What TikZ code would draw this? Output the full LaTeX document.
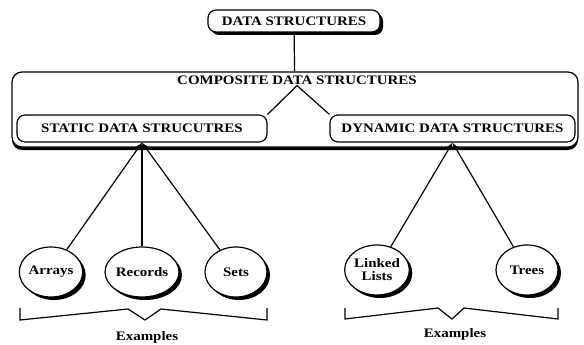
\documentclass[tikz,border=0pt]{standalone}
\usepackage{fontspec}
\setmainfont{Liberation Serif}[FakeStretch=1.15]
\usetikzlibrary{arrows,shapes.geometric,shadows}

\tikzset{
  txt/.style={font=\bfseries\fontsize{13}{13}\selectfont, inner sep=1pt},
  box/.style={txt, draw, line width=1.2pt, rounded corners=8pt, fill=white, inner sep=0pt},
  shade/.style={drop shadow={shadow xshift=3pt, shadow yshift=-3pt, fill=black, opacity=1}},
  example/.style={txt, draw, ellipse, line width=1.2pt, fill=white, minimum width=62pt,
    minimum height=50pt, inner sep=0pt, align=center, shade},
  link/.style={line width=1.2pt},
}

\begin{document}
\begin{tikzpicture}[x=1pt,y=-1pt]
    \useasboundingbox (0,0) rectangle (584,345);

    \node[box, shade, minimum width=172pt, minimum height=22pt] (ds) at (294,21) {DATA STRUCTURES};
    \node[box, rounded corners=10pt, minimum width=566pt, minimum height=75pt,
      drop shadow={shadow xshift=0pt, shadow yshift=-3pt, fill=black, opacity=1}] (comp) at (295,109.5) {};
    \node[txt] (comptxt) at (297,80) {COMPOSITE DATA STRUCTURES};
    \node[box, minimum width=250pt, minimum height=27pt] (static) at (142,128.5) {STATIC DATA STRUCUTRES};
    \node[box, minimum width=245pt, minimum height=27pt] (dynamic) at (452.5,128.5) {DYNAMIC DATA STRUCTURES};

    \node[example] (arrays) at (51,272) {Arrays};
    \node[example] (records) at (142,272) {Records};
    \node[example] (sets) at (236,272) {Sets};
    \node[example] (linked) at (377,270) {Linked\\Lists};
    \node[example] (trees) at (527,270) {Trees};

    \node[txt] (exl) at (147,337) {Examples};
    \node[txt] (exr) at (455,334) {Examples};

    \draw[link] (ds) -- (comp);
    \draw[link] (comptxt.south) -- (static.north east);
    \draw[link] (comptxt.south) -- (dynamic.north west);
    \draw[link, latex-] (static.south) -- (arrays);
    \draw[link, latex-] (static.south) -- (records);
    \draw[link, latex-] (static.south) -- (sets);
    \draw[link, latex-] (dynamic.south) -- (linked);
    \draw[link, latex-] (dynamic.south) -- (trees);

    \draw[link] (20,308) -- (20,320) -- (128,309) -- (145,320) -- (161,309) -- (267,320) -- (267,308);
    \draw[link] (345,308) -- (345,319) -- (438,308) -- (452,319) -- (464,308) -- (558,319) -- (558,308);
\end{tikzpicture}
\end{document}
